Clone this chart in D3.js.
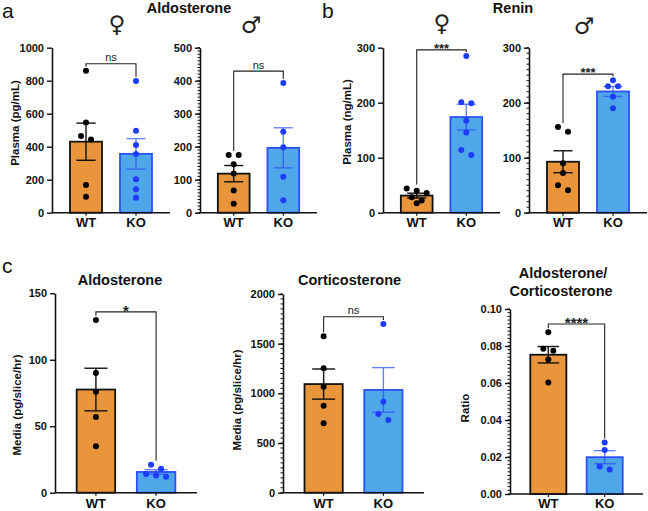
<!DOCTYPE html>
<html>
<head>
<meta charset="utf-8">
<script src="https://cdn.jsdelivr.net/npm/d3@7"></script>
<style>
  html, body { margin: 0; padding: 0; background: #fff; }
  svg { display: block; }
  text { font-family: "Liberation Sans", Arial, sans-serif; }
</style>
</head>
<body>
<script>
// ---------------- DATA ----------------
const groups = ["WT", "KO"];

// a: plasma aldosterone (pg/mL)
const aldoFemaleWT = [861, 547, 465, 444, 168, 97];
const aldoFemaleKO = [798, 497, 410, 356, 202, 142, 91];
const aldoMaleWT   = [175, 175, 147, 119, 67, 27];
const aldoMaleKO   = [393, 245, 198, 109, 38];

// b: plasma renin (ng/mL)
const reninFemaleWT = [44, 40, 36, 28, 22, 17];
const reninFemaleKO = [285, 201, 199, 167, 146, 114, 105];
const reninMaleWT   = [156, 147, 90, 72, 50, 41];
const reninMaleKO   = [241, 230, 230, 211, 190];

// c: media (pg/slice/hr) and ratio
const sliceAldoWT = [130, 90, 76, 57, 35];
const sliceAldoKO = [21, 18, 14, 13, 12];
const sliceCortWT = [1574, 1252, 1067, 876, 698];
const sliceCortKO = [1698, 916, 792, 732];
const ratioWT = [0.0875, 0.0785, 0.0774, 0.0727, 0.0603];
const ratioKO = [0.0278, 0.0238, 0.0148, 0.0132];

// tick labels
const ticksAldoFemale = [0, 200, 400, 600, 800, 1000];
const ticksAldoMale   = [0, 100, 200, 300, 400, 500];
const ticksRenin      = [0, 100, 200, 300];
const ticksSliceAldo  = [0, 50, 100, 150];
const ticksSliceCort  = [0, 500, 1000, 1500, 2000];
const ticksRatio      = [0, 0.02, 0.04, 0.06, 0.08, 0.10];

// significance brackets (level in data units) and labels
const bracketLevels = [903, 429, 296, 252, 136, 1771, 0.0919];
const sigLabels     = ["ns", "ns", "***", "***", "*", "ns", "****"];

// ---------------- DRAWING ----------------
const W = 648, H = 511;
const ORANGE = "#E8953B", BLUE_FILL = "#4FA7EA", BLUE_LINE = "#2B50F5", BLUE_DOT = "#1E3CFF";
const FONT = '"Liberation Sans", Arial, sans-serif';

const svg = d3.select("body").append("svg").attr("width", W).attr("height", H);

function sem(a) { return d3.deviation(a) / Math.sqrt(a.length); }

function panel(cfg) {
  const g = svg.append("g");
  const yMax = cfg.ticks[cfg.ticks.length - 1];
  const y = d3.scaleLinear().domain([0, yMax]).range([cfg.yBot, cfg.yTop]);
  const x = d3.scaleBand().domain(groups).range([cfg.x0, cfg.x1])
              .paddingInner(0.36).paddingOuter(0.36);
  const bw = x.bandwidth();
  const series = [
    { g: "WT", v: cfg.wt, fill: ORANGE, stroke: "#111", dot: "#000", err: "#111", errOp: 1 },
    { g: "KO", v: cfg.ko, fill: BLUE_FILL, stroke: BLUE_LINE, dot: BLUE_DOT, err: BLUE_LINE, errOp: 0.72 }
  ];

  // bars
  series.forEach(s => {
    const m = d3.mean(s.v);
    g.append("rect")
      .attr("x", x(s.g)).attr("width", bw)
      .attr("y", y(m)).attr("height", y(0) - y(m))
      .attr("fill", s.fill).attr("stroke", s.stroke).attr("stroke-width", 1.8);
  });

  // error bars
  series.forEach(s => {
    const m = d3.mean(s.v), e = sem(s.v);
    const cx = x(s.g) + bw / 2, cw = bw * 0.6;
    const eg = g.append("g").attr("stroke", s.err).attr("stroke-opacity", s.errOp)
                .attr("stroke-width", 1.4).attr("fill", "none");
    eg.append("line").attr("x1", cx).attr("x2", cx).attr("y1", y(m - e)).attr("y2", y(m + e));
    [m - e, m + e].forEach(v => {
      eg.append("line").attr("x1", cx - cw / 2).attr("x2", cx + cw / 2).attr("y1", y(v)).attr("y2", y(v));
    });
  });

  // points (simple row-based scatter so close values spread sideways)
  const r = 3, spacing = 10;
  series.forEach(s => {
    const cx = x(s.g) + bw / 2;
    const ys = s.v.map(v => y(v)).sort((a, b) => a - b);
    const rows = [];
    ys.forEach(py => {
      const last = rows[rows.length - 1];
      if (last && py - last[0] < 2 * r) last.push(py); else rows.push([py]);
    });
    rows.forEach(row => {
      row.forEach((py, i) => {
        g.append("circle").attr("cx", cx + (i - (row.length - 1) / 2) * spacing)
          .attr("cy", py).attr("r", r).attr("fill", s.dot);
      });
    });
  });

  // y axis
  const ax = g.append("g").attr("transform", `translate(${cfg.x0},0)`)
    .call(d3.axisLeft(y).tickValues(cfg.ticks).tickSize(5).tickSizeOuter(0).tickPadding(3)
          .tickFormat(cfg.fmt));
  ax.select(".domain").attr("stroke", "#111").attr("stroke-width", 1.6);
  ax.selectAll(".tick line").attr("stroke", "#111").attr("stroke-width", 1.4);
  ax.selectAll(".tick text").attr("fill", "#111").style("font-family", FONT)
    .style("font-size", "11px").style("font-weight", "bold");
  if (cfg.minor) {
    const mt = d3.range(0, yMax + cfg.minor / 2, cfg.minor);
    g.selectAll(null).data(mt).join("line")
      .attr("x1", cfg.x0 - 2.5).attr("x2", cfg.x0).attr("y1", d => y(d)).attr("y2", d => y(d))
      .attr("stroke", "#111").attr("stroke-width", 1);
  }
  // x axis
  g.append("line").attr("x1", cfg.x0).attr("x2", cfg.x1).attr("y1", y(0)).attr("y2", y(0))
    .attr("stroke", "#111").attr("stroke-width", 1.6);
  groups.forEach(k => {
    const cx = x(k) + bw / 2;
    g.append("line").attr("x1", cx).attr("x2", cx).attr("y1", y(0)).attr("y2", y(0) + 3)
      .attr("stroke", "#111").attr("stroke-width", 1.2);
    g.append("text").attr("x", cx).attr("y", cfg.labY).attr("text-anchor", "middle")
      .style("font-size", "13px").style("font-weight", "bold").attr("fill", "#111").text(k);
  });

  // y label
  if (cfg.yLabel) {
    g.append("text").attr("transform", `translate(${cfg.yLabX},${cfg.yLabY}) rotate(-90)`)
      .attr("text-anchor", "middle").attr("dy", "0.36em")
      .style("font-size", "11.5px").style("font-weight", "bold").attr("fill", "#111")
      .text(cfg.yLabel);
  }

  // significance bracket
  const by = y(cfg.bracket);
  const legEnd = series.map(s => {
    const top = Math.min(y(d3.max(s.v)), y(d3.mean(s.v) + sem(s.v)));
    return top - r - 1;
  });
  const cxs = groups.map(k => x(k) + bw / 2);
  g.append("path")
    .attr("d", `M${cxs[0]},${legEnd[0]}V${by}H${cxs[1]}V${legEnd[1]}`)
    .attr("fill", "none").attr("stroke", "#222").attr("stroke-width", 1.1);
  const isStar = cfg.sig.indexOf("*") >= 0;
  g.append("text").attr("x", (cxs[0] + cxs[1]) / 2)
    .attr("y", isStar ? by + cfg.starDy : by - 2.5)
    .attr("text-anchor", "middle").attr("fill", "#222")
    .style("font-size", isStar ? cfg.starSize : "11px")
    .style("font-weight", isStar ? "bold" : "normal")
    .text(cfg.sig);
}

const fmt0 = d3.format("d"), fmt2 = d3.format(".2f");

panel({ x0: 52, x1: 170, yBot: 212.7, yTop: 47.7, ticks: ticksAldoFemale, fmt: fmt0, minor: null,
        wt: aldoFemaleWT, ko: aldoFemaleKO, bracket: bracketLevels[0], sig: sigLabels[0],
        labY: 227, yLabel: "Plasma (pg/mL)", yLabX: 15, yLabY: 123, starDy: 3, starSize: "13px" });
panel({ x0: 200, x1: 317, yBot: 212.7, yTop: 47.7, ticks: ticksAldoMale, fmt: fmt0, minor: 10,
        wt: aldoMaleWT, ko: aldoMaleKO, bracket: bracketLevels[1], sig: sigLabels[1],
        labY: 227, starDy: 3, starSize: "13px" });
panel({ x0: 383, x1: 500, yBot: 212.7, yTop: 47.7, ticks: ticksRenin, fmt: fmt0, minor: null,
        wt: reninFemaleWT, ko: reninFemaleKO, bracket: bracketLevels[2], sig: sigLabels[2],
        labY: 227, yLabel: "Plasma (ng/mL)", yLabX: 347, yLabY: 122, starDy: 3, starSize: "13px" });
panel({ x0: 529, x1: 647, yBot: 212.7, yTop: 47.7, ticks: ticksRenin, fmt: fmt0, minor: 10,
        wt: reninMaleWT, ko: reninMaleKO, bracket: bracketLevels[3], sig: sigLabels[3],
        labY: 227, starDy: 3, starSize: "13px" });
panel({ x0: 55, x1: 197, yBot: 492.7, yTop: 293.3, ticks: ticksSliceAldo, fmt: fmt0, minor: null,
        wt: sliceAldoWT, ko: sliceAldoKO, bracket: bracketLevels[4], sig: sigLabels[4],
        labY: 508, yLabel: "Media (pg/slice/hr)", yLabX: 17, yLabY: 405, starDy: 4.5, starSize: "15px" });
panel({ x0: 283, x1: 424, yBot: 492.7, yTop: 294, ticks: ticksSliceCort, fmt: fmt0, minor: 50,
        wt: sliceCortWT, ko: sliceCortKO, bracket: bracketLevels[5], sig: sigLabels[5],
        labY: 508, yLabel: "Media (pg/slice/hr)", yLabX: 237, yLabY: 400, starDy: 4.5, starSize: "15px" });
panel({ x0: 510, x1: 643, yBot: 494, yTop: 309, ticks: ticksRatio, fmt: fmt2, minor: 0.002,
        wt: ratioWT, ko: ratioKO, bracket: bracketLevels[6], sig: sigLabels[6],
        labY: 508, yLabel: "Ratio", yLabX: 465, yLabY: 408, starDy: 4.5, starSize: "15px" });

// titles
function title(txt, x, y) {
  svg.append("text").attr("x", x).attr("y", y).attr("text-anchor", "middle")
    .style("font-size", "14.5px").style("font-weight", "bold").attr("fill", "#111").text(txt);
}
title("Aldosterone", 189, 13);
title("Renin", 513, 13);
title("Aldosterone", 120, 285);
title("Corticosterone", 349.5, 285);
title("Aldosterone/", 563, 278);
title("Corticosterone", 561, 296);

// sex symbols
function sym(ch, x, y) {
  svg.append("text").attr("x", x).attr("y", y).attr("text-anchor", "middle")
    .style("font-family", '"DejaVu Sans", sans-serif').style("font-size", "23px")
    .attr("fill", "#222").text(ch);
}
sym("\u2640", 117, 32);
sym("\u2642", 251, 33);
sym("\u2640", 442, 31);
sym("\u2642", 584, 34);

// panel letters
function letter(ch, x, y) {
  svg.append("text").attr("x", x).attr("y", y)
    .style("font-size", "21px").attr("fill", "#111").text(ch);
}
letter("a", 2, 18);
letter("b", 322, 18);
letter("c", 2, 273);
</script>
</body>
</html>
